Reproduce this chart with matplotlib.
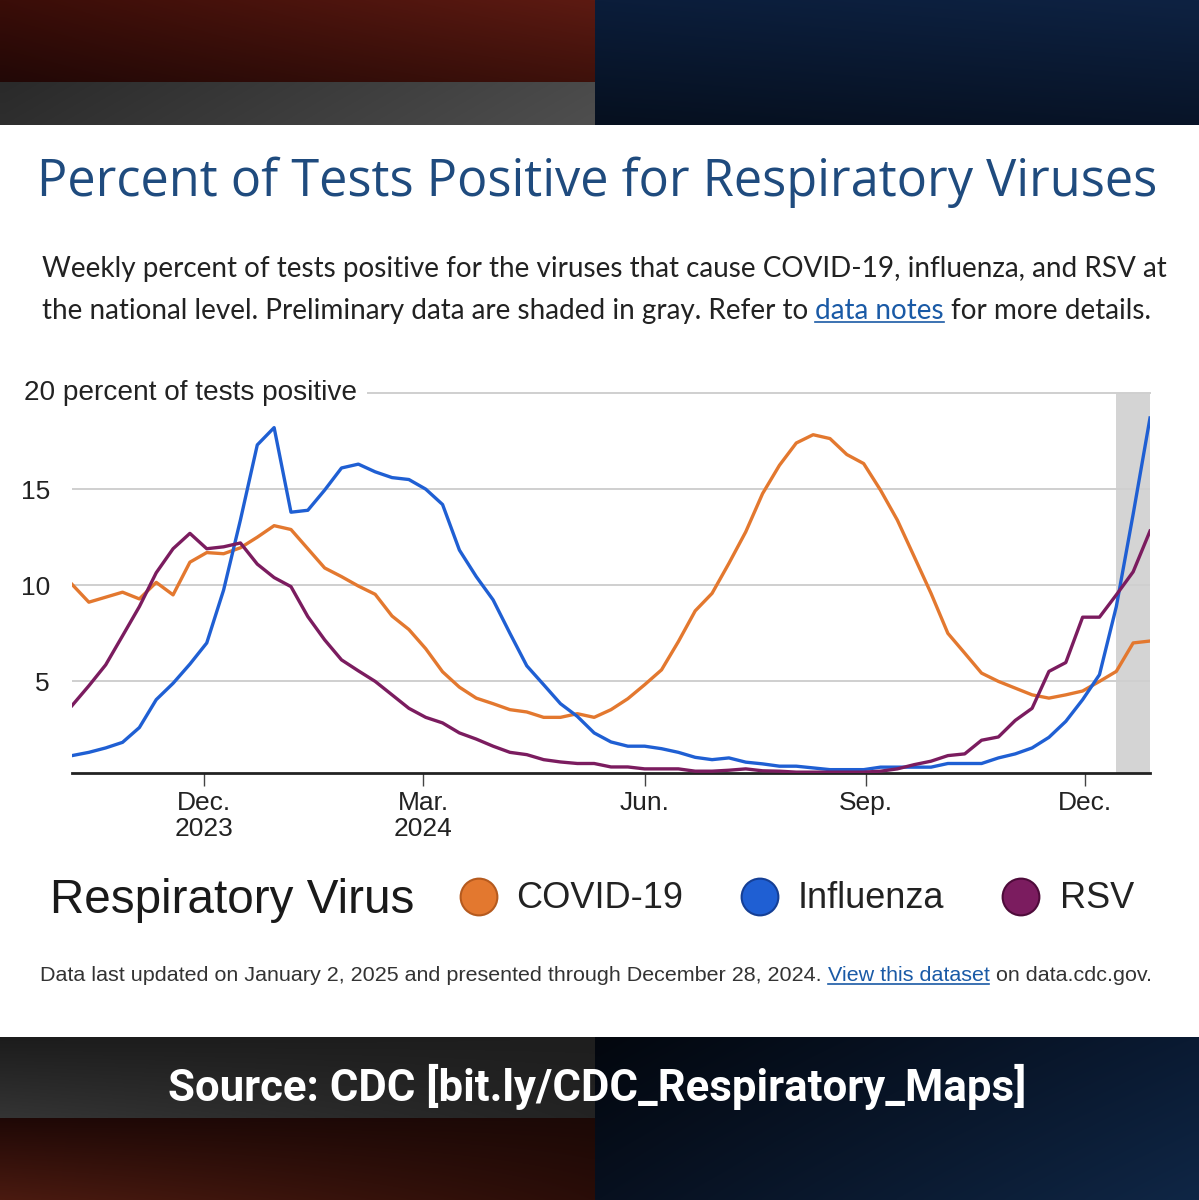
import numpy as np
import pandas as pd
import matplotlib
matplotlib.use("Agg")
import matplotlib.pyplot as plt
from matplotlib.colors import to_rgb
from matplotlib.lines import Line2D

# weekly values (Oct 7 2023 .. Dec 28 2024)
weeks = pd.date_range("2023-10-07", "2024-12-28", freq="7D")
covid = [10.05, 9.12, 9.38, 9.64, 9.29, 10.15, 9.5, 11.2, 11.7, 11.64, 11.95, 12.5, 13.1,
         12.9, 11.9, 10.9, 10.45, 9.96, 9.53, 8.4, 7.7, 6.7, 5.5,
         4.7, 4.13, 3.84, 3.53, 3.41, 3.13, 3.13, 3.32, 3.13, 3.53, 4.1, 4.83, 5.6, 7.07,
         8.67, 9.58, 11.14, 12.78, 14.77, 16.24, 17.4,
         17.83, 17.63, 16.8, 16.33, 14.95, 13.39, 11.49, 9.58, 7.5, 6.47, 5.43, 5.0, 4.65,
         4.3, 4.13, 4.3, 4.5, 5.0, 5.52, 7.0, 7.1]
flu = [1.14, 1.31, 1.54, 1.83, 2.6, 4.05, 4.9, 5.9, 7.0, 9.75, 13.4, 17.3, 18.2,
       13.8, 13.9, 14.95, 16.1, 16.3, 15.9, 15.6, 15.5, 15.0, 14.2,
       11.83, 10.45, 9.24, 7.5, 5.81, 4.83, 3.84, 3.18, 2.32, 1.85, 1.63, 1.63, 1.5, 1.31,
       1.05, 0.93, 1.02, 0.8, 0.71, 0.59, 0.59,
       0.5, 0.41, 0.41, 0.41, 0.54, 0.54, 0.54, 0.54, 0.73, 0.73, 0.73, 1.02, 1.23,
       1.54, 2.09, 2.92, 4.05, 5.35, 8.89, 13.7, 18.7]
rsv = [3.74, 4.77, 5.86, 7.37, 8.89, 10.65, 11.9, 12.7, 11.9, 12.0, 12.2, 11.1, 10.4,
       9.93, 8.37, 7.16, 6.12, 5.55, 5.0, 4.3, 3.6, 3.13, 2.84,
       2.32, 2.0, 1.63, 1.31, 1.19, 0.93, 0.81, 0.73, 0.73, 0.55, 0.55, 0.45, 0.45, 0.45,
       0.33, 0.33, 0.38, 0.45, 0.35, 0.33, 0.28,
       0.28, 0.28, 0.28, 0.28, 0.33, 0.45, 0.67, 0.85, 1.14, 1.23, 1.94, 2.11, 2.97,
       3.6, 5.52, 5.98, 8.34, 8.34, 9.5, 10.7, 12.82]
prelim_start = pd.Timestamp("2024-12-14")

series_names = ["COVID-19", "Influenza", "RSV"]
series_colors = ["#e3782f", "#1f5fd3", "#7b1c5f"]
edge_colors = ["#b55a1e", "#153f95", "#4e0b3a"]
tick_dates = pd.to_datetime(["2023-12-01", "2024-03-01", "2024-06-01", "2024-09-01", "2024-12-01"])
tick_labels = ["Dec.\n2023", "Mar.\n2024", "Jun.", "Sep.", "Dec."]
y_ticks = [5, 10, 15]

W, H = 1199, 1200
fig = plt.figure(figsize=(W / 100, H / 100), dpi=100)
fig.patch.set_facecolor("white")


def fx(px):
    return px / W


def fy(py):
    return 1 - py / H


# dark banner background top and bottom
bg = fig.add_axes([0, 0, 1, 1])


def block(x0, x1, y0, y1, tl, tr, bl, br):
    c = [np.array(to_rgb(k)) for k in (tl, tr, bl, br)]
    u = np.linspace(0, 1, 64)[None, :, None]
    v = np.linspace(0, 1, 64)[:, None, None]
    img = (1 - v) * ((1 - u) * c[0] + u * c[1]) + v * ((1 - u) * c[2] + u * c[3])
    bg.imshow(img, extent=(x0, x1, y1, y0), aspect="auto", interpolation="bilinear")


block(0, 595, 0, 82, "#3a0d08", "#5c1a12", "#220806", "#3e110b")
block(0, 595, 82, 125, "#2a2a2a", "#4a4a4a", "#2e2e2e", "#4e4e4e")
block(595, W, 0, 125, "#0b1d3a", "#0e2242", "#06101f", "#081428")
block(0, 595, 1037, 1118, "#1c1c1c", "#1e1e1e", "#343434", "#232323")
block(0, 595, 1118, H, "#1f0806", "#1c0906", "#4a1a10", "#2a0d08")
block(595, W, 1037, H, "#03070e", "#0a1a32", "#07101f", "#0f2645")
bg.set_xlim(0, W)
bg.set_ylim(H, 0)
bg.axis("off")

# main chart
ax = fig.add_axes([fx(72), fy(773.3), fx(1150) - fx(72), (773.3 - 393) / H])
ax.set_xlim(weeks[0], weeks[-1])
ax.set_ylim(0.22, 20)
ax.axvspan(prelim_start, weeks[-1], color="#d4d4d4", lw=0, zorder=0)
for y in y_ticks:
    ax.axhline(y, color="#cfcfcf", lw=1.4, zorder=1)
ax.plot([0.275, 1], [1, 1], transform=ax.transAxes, color="#cfcfcf", lw=1.4, clip_on=False)
for vals, col in zip([covid, flu, rsv], series_colors):
    ax.plot(weeks, vals, color=col, lw=2.4, solid_joinstyle="round", zorder=3)

for s in ["top", "right", "left"]:
    ax.spines[s].set_visible(False)
ax.spines["bottom"].set_color("#222222")
ax.spines["bottom"].set_linewidth(2)
ax.set_xticks(tick_dates)
ax.set_xticklabels(tick_labels, fontsize=19, color="#222222", linespacing=1.1,
                   family="Liberation Sans")
ax.tick_params(axis="x", length=9, width=1, color="#444444", pad=4)
ax.set_yticks(y_ticks)
ax.set_yticklabels([str(v) for v in y_ticks], fontsize=19, color="#222222",
                   family="Liberation Sans")
ax.tick_params(axis="y", length=0, pad=16)
fig.text(fx(24), fy(393), "20 percent of tests positive", fontsize=20.2, color="#222222",
         va="center", family="Liberation Sans")

# title
fig.text(fx(597), fy(196), "Percent of Tests Positive for Respiratory Viruses",
         ha="center", va="baseline", fontsize=36.4, color="#1f4b7e", family="Open Sans")

renderer = fig.canvas.get_renderer()


def text_run(x, y, parts, **kw):
    probe = fig.text(0, 0, "a a", **kw)
    probe2 = fig.text(0, 0, "aa", **kw)
    sp = probe.get_window_extent(renderer).width - probe2.get_window_extent(renderer).width
    probe.remove()
    probe2.remove()
    for s, col, link in parts:
        t = fig.text(fx(x), fy(y), s, color=col, va="baseline", **kw)
        bb = t.get_window_extent(renderer)
        if link:
            fig.add_artist(Line2D([bb.x0 / W, bb.x1 / W], [fy(y + 3), fy(y + 3)],
                                  color=col, lw=1.2))
        x = bb.x1 + sp


sub_kw = dict(fontsize=20.1, family="Lato")
text_run(42, 277, [("Weekly percent of tests positive for the viruses that cause COVID-19, "
                    "influenza, and RSV at", "#222222", False)], **sub_kw)
text_run(42, 319, [("the national level. Preliminary data are shaded in gray. Refer to",
                    "#222222", False),
                   ("data notes", "#1a5aa6", True),
                   ("for more details.", "#222222", False)], **sub_kw)

# legend
fig.text(fx(50), fy(913), "Respiratory Virus", fontsize=34.3, color="#1a1a1a",
         va="baseline", family="Liberation Sans")
leg_x = [479, 760, 1021]
leg_tx = [516, 798, 1060]
bg.scatter(leg_x, [897] * 3, s=700, c=series_colors, edgecolors=edge_colors, linewidths=1.5)
for tx, name in zip(leg_tx, series_names):
    fig.text(fx(tx), fy(898), name, fontsize=26, color="#222222", va="center",
             family="Liberation Sans")

# footnote
text_run(40, 981, [("Data last updated on January 2, 2025 and presented through "
                    "December 28, 2024.", "#333333", False),
                   ("View this dataset", "#1a5aa6", True),
                   ("on data.cdc.gov.", "#333333", False)],
         fontsize=15.45, family="Liberation Sans")

fig.text(fx(597), fy(1087), "Source: CDC [bit.ly/CDC_Respiratory_Maps]", ha="center",
         va="center", color="white", fontsize=31.5, fontweight="bold",
         family=["Roboto", "DejaVu Sans"])

fig.savefig("out.png", dpi=100)
